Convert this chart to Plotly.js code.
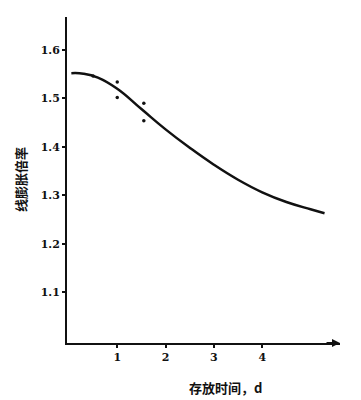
<!DOCTYPE html>
<html>
<head>
<meta charset="utf-8">
<script src="https://cdn.plot.ly/plotly-3.0.1.min.js"></script>
<style>html,body{margin:0;padding:0;background:#fff;}#chart{width:361px;height:400px;}</style>
</head>
<body>
<div id="chart"></div>
<script>
// Fitted curve: storage time (d) vs linear expansion ratio
const curveX = [0.05, 0.3, 0.6, 1.0, 1.5, 2.0, 2.5, 3.0, 3.5, 4.0, 4.5, 5.0, 5.29];
const curveY = [1.552, 1.551, 1.543, 1.520, 1.478, 1.436, 1.398, 1.363, 1.332, 1.306, 1.286, 1.271, 1.263];
// Measured points
const pointX = [0.5, 1.0, 1.0, 1.55, 1.55];
const pointY = [1.546, 1.534, 1.502, 1.490, 1.454];
// Ticks
const xTickVals = [1, 2, 3, 4];
const xTickText = ['1', '2', '3', '4'];
const yTickVals = [1.1, 1.2, 1.3, 1.4, 1.5, 1.6];
const yTickText = ['1.1', '1.2', '1.3', '1.4', '1.5', '1.6'];
const xTitle = '存放时间，d';
const yTitle = '线膨胀倍率';

const tickFont = {family: 'DejaVu Serif', size: 11, color: '#111', weight: 700};
const cjkFont = {family: 'Noto Sans CJK SC', size: 13, color: '#111', weight: 700};

const traces = [
  {x: curveX, y: curveY, mode: 'lines', type: 'scatter',
   line: {color: '#111', width: 2.5, shape: 'spline', smoothing: 1.3}, hoverinfo: 'skip'},
  {x: pointX, y: pointY, mode: 'markers', type: 'scatter',
   marker: {color: '#111', size: 3.5}, hoverinfo: 'skip'}
];

const layout = {
  width: 361, height: 400,
  margin: {l: 67, r: 21, t: 17, b: 57},
  paper_bgcolor: '#fff', plot_bgcolor: '#fff',
  showlegend: false,
  xaxis: {range: [-0.04, 5.61], tickvals: xTickVals, ticktext: xTickText,
          showline: true, linecolor: '#111', linewidth: 2, zeroline: false, showgrid: false,
          ticks: 'outside', ticklen: 3, tickwidth: 2, tickcolor: '#111', tickfont: tickFont},
  yaxis: {range: [0.995, 1.668], tickvals: yTickVals, ticktext: yTickText,
          showline: true, linecolor: '#111', linewidth: 2, zeroline: false, showgrid: false,
          ticks: 'outside', ticklen: 3, tickwidth: 2, tickcolor: '#111', tickfont: tickFont},
  annotations: [
    {text: yTitle, xref: 'paper', yref: 'paper', x: -0.172, y: 0.5, textangle: -90,
     showarrow: false, font: cjkFont, xanchor: 'center', yanchor: 'middle'},
    {text: xTitle, xref: 'paper', yref: 'paper', x: 0.582, y: -0.135,
     showarrow: false, font: cjkFont, xanchor: 'center', yanchor: 'middle'},
    {x: 5.61, y: 0.995, ax: 5.3, ay: 0.995, xref: 'x', yref: 'y', axref: 'x', ayref: 'y',
     text: '', showarrow: true, arrowhead: 2, arrowsize: 0.8, arrowwidth: 2, arrowcolor: '#111'}
  ]
};

Plotly.newPlot('chart', traces, layout, {displayModeBar: false, staticPlot: true});
</script>
</body>
</html>
